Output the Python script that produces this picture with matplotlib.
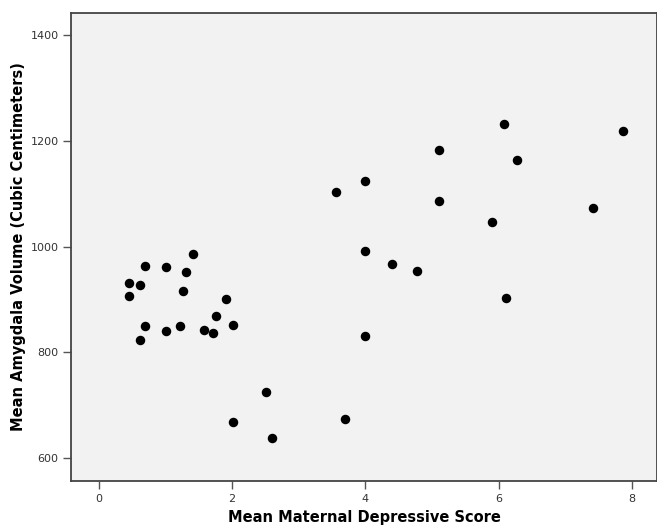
import matplotlib
matplotlib.use("Agg")
import matplotlib.pyplot as plt

# values
depressive_score = [0.45, 0.45, 0.62, 0.69, 0.69, 0.62, 1.01, 1.01, 1.22, 1.26,
                    1.31, 1.42, 1.58, 1.71, 1.76, 1.91, 2.01, 2.51, 2.01, 2.60,
                    6.09, 7.87, 5.11, 6.28, 4.00, 3.56, 5.10, 7.42, 5.90, 4.00,
                    4.40, 4.77, 6.11, 4.00, 3.70]
amygdala_volume = [931, 907, 927, 963, 850, 823, 961, 840, 850, 915,
                   951, 985, 842, 837, 869, 901, 852, 725, 668, 638,
                   1231, 1219, 1182, 1163, 1123, 1103, 1087, 1072, 1046, 992,
                   966, 954, 903, 831, 674]

x_ticks = [0, 2, 4, 6, 8]
y_ticks = [600, 800, 1000, 1200, 1400]

fig = plt.figure(figsize=(6.57, 5.29), dpi=100)
ax = fig.add_axes([0.108, 0.0907, 0.892, 0.8847])
ax.set_facecolor("#f2f2f2")

ax.scatter(depressive_score, amygdala_volume, s=34, color="black", zorder=3)

ax.set_xlim(-0.42, 8.38)
ax.set_ylim(556.5, 1441.6)
ax.set_xticks(x_ticks)
ax.set_yticks(y_ticks)

for side in ["left", "bottom", "top", "right"]:
    ax.spines[side].set_color("#444444")
    ax.spines[side].set_linewidth(1.3)

ax.tick_params(axis="both", direction="out", length=6, width=1, color="#555555",
               labelsize=8, labelcolor="#333333", pad=3)

ax.set_xlabel("Mean Maternal Depressive Score", fontsize=10.5, fontweight="bold", labelpad=5)
ax.set_ylabel("Mean Amygdala Volume (Cubic Centimeters)", fontsize=10.5, fontweight="bold", labelpad=3)

fig.savefig("out.png", dpi=100)
